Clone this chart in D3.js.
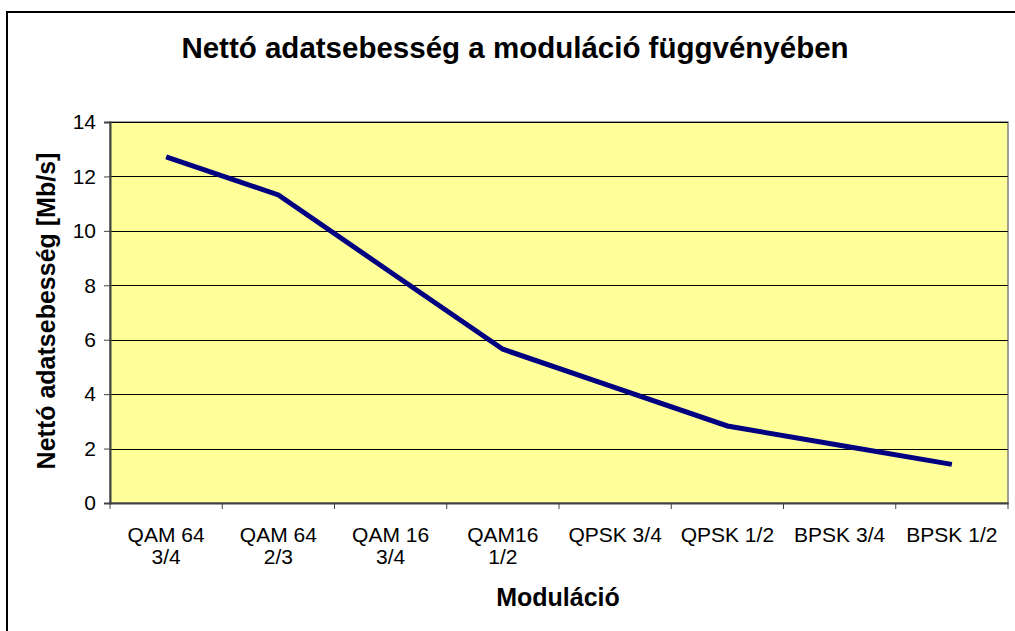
<html>
<head>
<style>
body { margin:0; background:#ffffff; }
svg { display:block; font-family:Arial, "Liberation Sans", sans-serif; }
</style>
<script src="https://cdn.jsdelivr.net/npm/d3@7/dist/d3.min.js"></script>
</head>
<body>
<svg id="chart" width="1015" height="631"></svg>
<script>
// chart data
var categories = ["QAM 64|3/4", "QAM 64|2/3", "QAM 16|3/4", "QAM16|1/2", "QPSK 3/4", "QPSK 1/2", "BPSK 3/4", "BPSK 1/2"];
var rates = [12.72, 11.32, 8.48, 5.65, 4.24, 2.83, 2.12, 1.42];
var yTicks = [0, 2, 4, 6, 8, 10, 12, 14];

var svg = d3.select("#chart");
var pLeft = 110, pRight = 1008, pTop = 122, pBottom = 503;

var x = d3.scaleBand().domain(categories).range([pLeft, pRight]);
var y = d3.scaleLinear().domain([0, 14]).range([pBottom, pTop]);

// outer frame (runs off right and bottom)
svg.append("rect").attr("x", 7).attr("y", 12).attr("width", 1030).attr("height", 640)
	.attr("fill", "none").attr("stroke", "#000000").attr("stroke-width", 2);

// plot area
svg.append("rect").attr("x", pLeft).attr("y", pTop).attr("width", pRight - pLeft).attr("height", pBottom - pTop)
	.attr("fill", "#ffff99").attr("stroke", "#808080").attr("stroke-width", 1.5);

// gridlines
svg.append("g").selectAll("line").data(yTicks.filter(function(d) { return d > 0; })).enter().append("line")
	.attr("x1", pLeft).attr("x2", pRight)
	.attr("y1", function(d) { return Math.round(y(d)) + 0.5; }).attr("y2", function(d) { return Math.round(y(d)) + 0.5; })
	.attr("stroke", "#000000").attr("stroke-width", 1);

// y axis
var yAxis = d3.axisLeft(y).tickValues(yTicks).tickSize(6).tickPadding(8);
var gy = svg.append("g").attr("transform", "translate(" + pLeft + ",0)").call(yAxis);
gy.select(".domain").attr("stroke", "#404040").attr("stroke-width", 2);
gy.selectAll(".tick line").attr("stroke", "#404040");
gy.selectAll("text").attr("font-size", 21).attr("fill", "#000000").attr("font-family", "Arial, 'Liberation Sans', sans-serif");

// x axis
var xAxis = d3.axisBottom(x).tickSize(0).tickFormat("");
var gx = svg.append("g").attr("transform", "translate(0," + pBottom + ")").call(xAxis);
gx.select(".domain").attr("stroke", "#404040").attr("stroke-width", 2);
gx.selectAll(".tick").remove();
var edges = categories.map(function(c) { return x(c); }).concat([pRight]);
gx.selectAll("line.edge").data(edges).enter().append("line").attr("class", "edge")
	.attr("x1", function(d) { return d; }).attr("x2", function(d) { return d; })
	.attr("y1", 0).attr("y2", 6).attr("stroke", "#404040").attr("stroke-width", 1);
var labels = gx.selectAll("text.cat").data(categories).enter().append("text").attr("class", "cat")
	.attr("x", function(d) { return x(d) + x.bandwidth() / 2; })
	.attr("text-anchor", "middle").attr("font-size", 21).attr("fill", "#000000");
labels.each(function(d) {
	var parts = d.split("|");
	var t = d3.select(this);
	parts.forEach(function(p, i) {
		t.append("tspan").attr("x", x(d) + x.bandwidth() / 2).attr("y", 39 + i * 22).text(p);
	});
});

// line
var line = d3.line()
	.x(function(d, i) { return x(categories[i]) + x.bandwidth() / 2; })
	.y(function(d) { return y(d); });
svg.append("path").datum(rates).attr("d", line)
	.attr("fill", "none").attr("stroke", "#000080").attr("stroke-width", 5).attr("stroke-linejoin", "miter");

// titles
svg.append("text").attr("x", 515).attr("y", 58).attr("text-anchor", "middle")
	.attr("font-size", 29.5).attr("font-weight", "bold").text("Nettó adatsebesség a moduláció függvényében");
svg.append("text").attr("x", 558).attr("y", 606).attr("text-anchor", "middle")
	.attr("font-size", 25).attr("font-weight", "bold").text("Moduláció");
svg.append("text").attr("transform", "translate(55,311)rotate(-90)").attr("text-anchor", "middle")
	.attr("font-size", 25).attr("font-weight", "bold").text("Nettó adatsebesség [Mb/s]");
</script>
</body>
</html>
